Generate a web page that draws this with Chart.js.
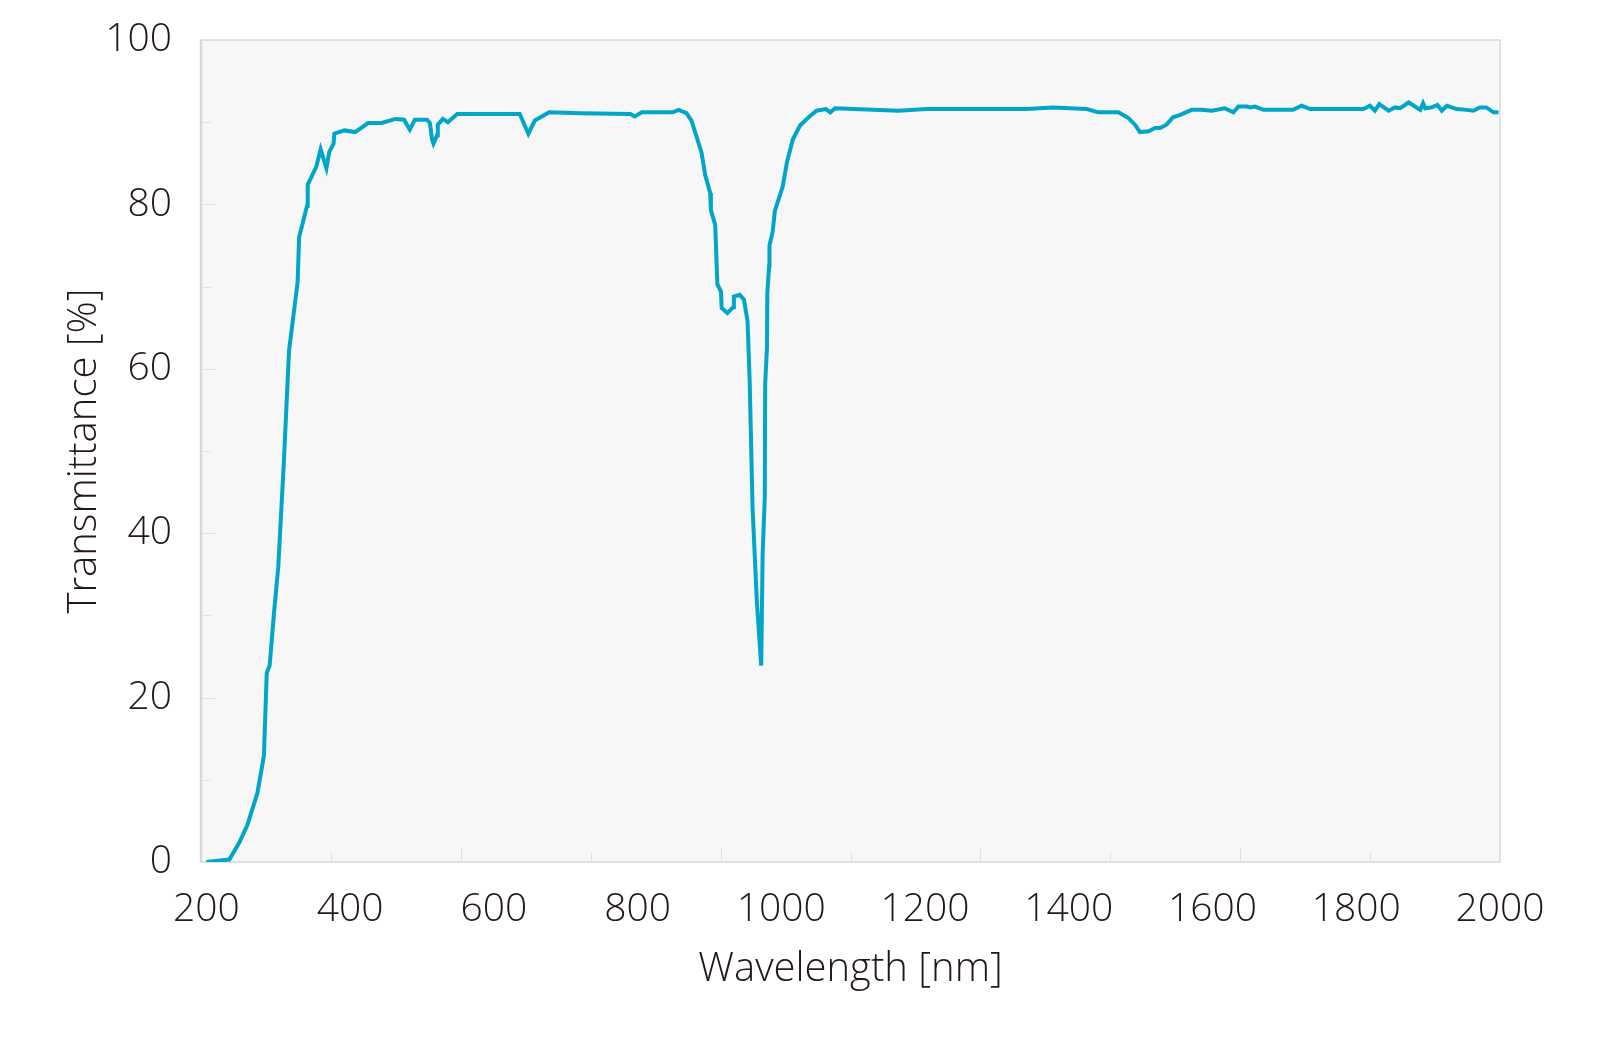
<!DOCTYPE html>
<html>
<head>
<meta charset="utf-8">
<script src="https://cdn.jsdelivr.net/npm/chart.js@4.4.1/dist/chart.umd.min.js"></script>
<style>
  html, body { margin: 0; padding: 0; background: #ffffff; }
  #wrap { width: 1600px; height: 1046px; }
</style>
</head>
<body>
<div id="wrap"><canvas id="specChart" width="1600" height="1046"></canvas></div>
<script>
// wavelength (nm) and transmittance (%)
const wavelength = [
  200, 232, 246, 257, 271, 280, 284, 288, 294, 300, 308, 315, 327, 329, 340, 341,
  353, 359, 367, 371, 377, 378, 392, 407, 425, 444, 463, 475, 483, 490, 507, 511,
  514, 516, 521, 522, 529, 536, 549, 636, 648, 657, 677, 720, 790, 796, 806, 849,
  857, 868, 875, 889, 894, 901, 902, 908, 910, 911, 916, 917, 925, 933, 934, 942,
  948, 953, 956, 960, 966, 972, 974, 977, 977.5, 980, 980.5, 983, 983.5, 988, 991,
  1002, 1008, 1016, 1026, 1038, 1049, 1062, 1068, 1075, 1163, 1202, 1341, 1378,
  1425, 1441, 1469, 1483, 1492, 1499, 1511, 1520, 1527, 1536, 1545, 1555, 1571,
  1585, 1599, 1617, 1629, 1636, 1648, 1652, 1659, 1671, 1712, 1724, 1736, 1810,
  1819, 1826, 1832, 1845, 1854, 1861, 1873, 1889, 1893, 1896, 1905, 1913, 1919,
  1926, 1940, 1954, 1963, 1972, 1981, 1991, 1998
];
const transmittance = [
  0.0, 0.3, 2.4, 4.5, 8.4, 12.9, 23.0, 23.9, 30.2, 35.9, 49.0, 62.2, 70.6, 76.0, 79.8, 82.4,
  84.6, 86.7, 84.4, 86.4, 87.4, 88.6, 89.0, 88.8, 89.9, 89.9, 90.4, 90.3, 89.1, 90.3, 90.3, 89.9,
  87.9, 87.4, 88.4, 89.7, 90.4, 90.0, 91.0, 91.0, 88.6, 90.2, 91.2, 91.1, 91.0, 90.7, 91.2, 91.2,
  91.5, 91.1, 90.2, 86.3, 83.6, 81.4, 79.3, 77.5, 72.7, 70.3, 69.4, 67.4, 66.8, 67.5, 68.8, 69.0,
  68.4, 65.8, 58.4, 43.0, 31.6, 23.9, 37.5, 44.4, 58.1, 62.5, 69.2, 72.5, 75.0, 76.7, 79.2,
  82.2, 85.2, 87.9, 89.6, 90.6, 91.4, 91.6, 91.2, 91.7, 91.4, 91.6, 91.6, 91.8,
  91.6, 91.2, 91.2, 90.5, 89.7, 88.8, 88.9, 89.3, 89.3, 89.7, 90.6, 90.9, 91.5,
  91.5, 91.4, 91.7, 91.2, 91.9, 91.9, 91.8, 91.9, 91.5, 91.5, 92.0, 91.6, 91.6,
  92.0, 91.4, 92.2, 91.4, 91.8, 91.7, 92.4, 91.5, 92.3, 91.7, 91.8, 92.1, 91.4,
  92.0, 91.6, 91.5, 91.4, 91.8, 91.8, 91.2, 91.2
];

const xTickLabels = [200, 400, 600, 800, 1000, 1200, 1400, 1600, 1800, 2000];
const yTickLabels = [0, 20, 40, 60, 80, 100];

const textColor = '#231815';
const fontFamily = '"Open Sans", "Noto Sans", sans-serif';

// plot background, frame and the little inner tick marks
const framePlugin = {
  id: 'frame',
  beforeDraw(chart) {
    const { ctx, chartArea: a } = chart;
    ctx.save();
    ctx.fillStyle = '#f7f7f7';
    ctx.fillRect(a.left, a.top, a.right - a.left, a.bottom - a.top);
    ctx.restore();
  },
  beforeDatasetsDraw(chart) {
    const { ctx, chartArea: a, scales } = chart;
    ctx.save();
    ctx.strokeStyle = '#e2e2e2';
    ctx.lineWidth = 1;
    // x marks: 10 equal steps across the plot
    const xs = scales.x;
    const step = (xs.max - xs.min) / 10;
    for (let i = 1; i < 10; i++) {
      const px = Math.round(xs.getPixelForValue(xs.min + i * step)) + 0.5;
      const len = i % 2 === 0 ? 14 : 10;
      ctx.beginPath();
      ctx.moveTo(px, a.bottom);
      ctx.lineTo(px, a.bottom - len);
      ctx.stroke();
    }
    // y marks every 10 %
    const ys = scales.y;
    for (let v = 10; v < 100; v += 10) {
      const py = Math.round(ys.getPixelForValue(v)) + 0.5;
      const len = v % 20 === 0 ? 15 : 10;
      ctx.beginPath();
      ctx.moveTo(a.left, py);
      ctx.lineTo(a.left + len, py);
      ctx.stroke();
    }
    // frame
    ctx.strokeStyle = '#d9d9d9';
    ctx.lineWidth = 1.5;
    ctx.strokeRect(a.left, a.top, a.right - a.left, a.bottom - a.top);
    ctx.lineWidth = 2.5;
    ctx.beginPath();
    ctx.moveTo(a.left, a.top);
    ctx.lineTo(a.left, a.bottom);
    ctx.stroke();
    ctx.restore();
  }
};

const points = wavelength.map((w, i) => ({ x: w, y: transmittance[i] }));

new Chart(document.getElementById('specChart'), {
  type: 'line',
  data: {
    datasets: [{
      data: points,
      borderColor: '#00a5c8',
      borderWidth: 4,
      pointRadius: 0,
      tension: 0,
      fill: false
    }]
  },
  options: {
    responsive: false,
    animation: false,
    events: [],
    layout: { padding: { left: 0, top: 40, right: 100, bottom: 0 } },
    plugins: { legend: { display: false }, tooltip: { enabled: false } },
    scales: {
      x: {
        type: 'linear',
        min: 192.5,
        max: 2000,
        afterBuildTicks(scale) {
          scale.ticks = xTickLabels.map(v => ({ value: v }));
        },
        afterFit(scale) {
          scale.height = 184;
          scale.paddingLeft = 0;
          scale.paddingRight = 0;
        },
        grid: { display: false, drawTicks: false },
        border: { display: false },
        ticks: {
          color: textColor,
          font: { family: fontFamily, size: 39, weight: 300 },
          padding: 24,
          maxRotation: 0,
          autoSkip: false,
          callback: v => String(v)
        },
        title: {
          display: true,
          text: 'Wavelength [nm]',
          color: textColor,
          font: { family: fontFamily, size: 40, weight: 300 },
          padding: { top: 0, bottom: 52 }
        }
      },
      y: {
        min: 0,
        max: 100,
        afterBuildTicks(scale) {
          scale.ticks = yTickLabels.map(v => ({ value: v }));
        },
        afterFit(scale) {
          scale.width = 201;
          scale.paddingTop = 0;
          scale.paddingBottom = 0;
        },
        grid: { display: false, drawTicks: false },
        border: { display: false },
        ticks: {
          color: textColor,
          font: { family: fontFamily, size: 39, weight: 300 },
          padding: 29,
          callback: v => String(v)
        },
        title: {
          display: true,
          text: 'Transmittance [%]',
          color: textColor,
          font: { family: fontFamily, size: 40, weight: 300 },
          padding: { top: 61, bottom: 0 }
        }
      }
    }
  },
  plugins: [framePlugin]
});
</script>
</body>
</html>
